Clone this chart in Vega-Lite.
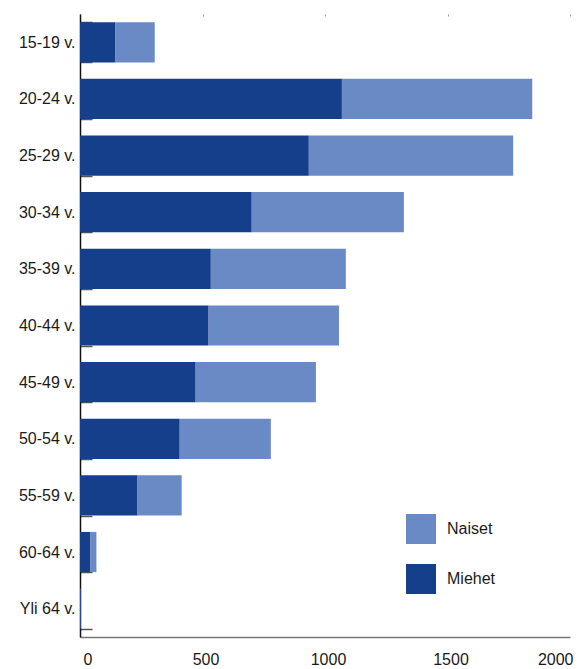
{
  "$schema": "https://vega.github.io/schema/vega-lite/v6.json",
  "width": 490,
  "height": 623,
  "autosize": {"type": "none"},
  "padding": {"left": 80, "top": 14, "right": 9, "bottom": 32},
  "background": "white",
  "config": {
    "view": {"stroke": null},
    "font": "Liberation Sans",
    "axis": {"labelFont": "Liberation Sans", "labelFontSize": 16, "labelColor": "#1a1a1a", "titleFontSize": 14}
  },
  "data": {
    "values": [
      {"ika": "15-19 v.", "sukupuoli": "Miehet", "maara": 145},
      {"ika": "15-19 v.", "sukupuoli": "Naiset", "maara": 160},
      {"ika": "20-24 v.", "sukupuoli": "Miehet", "maara": 1069},
      {"ika": "20-24 v.", "sukupuoli": "Naiset", "maara": 777},
      {"ika": "25-29 v.", "sukupuoli": "Miehet", "maara": 934},
      {"ika": "25-29 v.", "sukupuoli": "Naiset", "maara": 834},
      {"ika": "30-34 v.", "sukupuoli": "Miehet", "maara": 701},
      {"ika": "30-34 v.", "sukupuoli": "Naiset", "maara": 621},
      {"ika": "35-39 v.", "sukupuoli": "Miehet", "maara": 534},
      {"ika": "35-39 v.", "sukupuoli": "Naiset", "maara": 551},
      {"ika": "40-44 v.", "sukupuoli": "Miehet", "maara": 525},
      {"ika": "40-44 v.", "sukupuoli": "Naiset", "maara": 532},
      {"ika": "45-49 v.", "sukupuoli": "Miehet", "maara": 472},
      {"ika": "45-49 v.", "sukupuoli": "Naiset", "maara": 491},
      {"ika": "50-54 v.", "sukupuoli": "Miehet", "maara": 407},
      {"ika": "50-54 v.", "sukupuoli": "Naiset", "maara": 372},
      {"ika": "55-59 v.", "sukupuoli": "Miehet", "maara": 235},
      {"ika": "55-59 v.", "sukupuoli": "Naiset", "maara": 180},
      {"ika": "60-64 v.", "sukupuoli": "Miehet", "maara": 43},
      {"ika": "60-64 v.", "sukupuoli": "Naiset", "maara": 24},
      {"ika": "Yli 64 v.", "sukupuoli": "Miehet", "maara": 3},
      {"ika": "Yli 64 v.", "sukupuoli": "Naiset", "maara": 1}
    ]
  },
  "mark": {"type": "bar"},
  "encoding": {
    "y": {
      "field": "ika",
      "type": "nominal",
      "sort": null,
      "scale": {"paddingInner": 0.29, "paddingOuter": 0.145},
      "axis": {
        "title": null,
        "tickBand": "extent",
        "tickSize": -12,
        "tickColor": "#555555",
        "tickWidth": 1.5,
        "domainColor": "#111111",
        "domainWidth": 1.5,
        "labelPadding": 17
      }
    },
    "x": {
      "field": "maara",
      "type": "quantitative",
      "scale": {"domain": [0, 2000], "nice": false},
      "axis": {
        "title": null,
        "values": [0, 500, 1000, 1500, 2000],
        "format": "d",
        "ticks": false,
        "grid": true,
        "gridColor": "#999999",
        "gridDash": [2, 621],
        "gridDashOffset": 2,
        "domainColor": "#777777",
        "domainWidth": 1.5,
        "labelPadding": 14,
        "labelOffset": 3,
        "labelFlush": true,
        "labelFlushOffset": 0
      }
    },
    "color": {
      "field": "sukupuoli",
      "type": "nominal",
      "scale": {"domain": ["Miehet", "Naiset"], "range": ["#153f8b", "#6a8ac6"]},
      "legend": {
        "title": null,
        "values": ["Naiset", "Miehet"],
        "orient": "none",
        "legendX": 326,
        "legendY": 500,
        "symbolType": "square",
        "symbolSize": 900,
        "symbolStrokeWidth": 0,
        "symbolOpacity": 1,
        "labelFontSize": 16,
        "labelFont": "Liberation Sans",
        "labelColor": "#1a1a1a",
        "labelOffset": 11,
        "rowPadding": 20,
        "padding": 0
      }
    }
  }
}
